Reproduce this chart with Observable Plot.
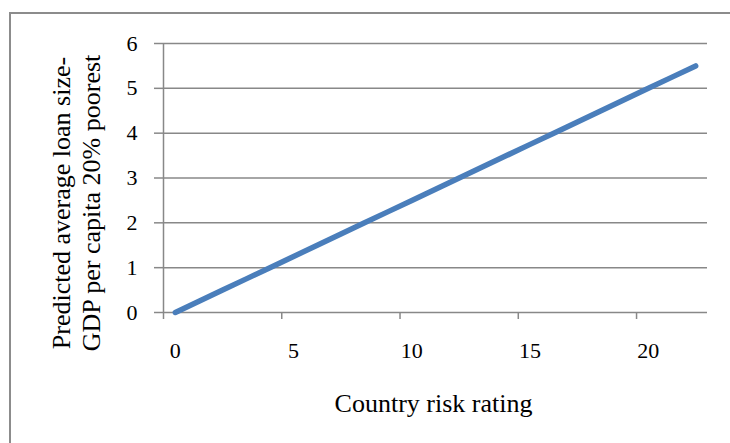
<!DOCTYPE html>
<html>
<head>
<meta charset="utf-8">
<script src="https://cdn.jsdelivr.net/npm/d3@7"></script>
<script src="https://cdn.jsdelivr.net/npm/@observablehq/plot@0.6"></script>
<style>
  html, body { margin: 0; padding: 0; background: #fff; }
  #wrap { position: relative; width: 730px; height: 443px; overflow: hidden; background: #fff; }
  #border { position: absolute; left: 9px; top: 12px; width: 900px; height: 700px;
            border: 2.5px solid #8c8c8c; box-sizing: border-box; }
  #chart { position: absolute; left: 0; top: 0; }
  #chart text { font-family: 'Liberation Serif', 'Times New Roman', serif; }
  #chart g[aria-label$="tick label"], #chart g[aria-label$="tick label"] text { font-size: 22px; }
</style>
</head>
<body>
<div id="wrap">
  <div id="border"></div>
  <div id="chart"></div>
</div>
<script>
// Country risk rating categories and the predicted loan size for each
const riskRating = [0, 1, 2, 3, 4, 5, 6, 7, 8, 9, 10, 11, 12, 13, 14, 15, 16, 17, 18, 19, 20, 21, 22];
const predictedLoanSize = [0, 0.25, 0.5, 0.75, 1, 1.25, 1.5, 1.75, 2, 2.25, 2.5, 2.75, 3, 3.25, 3.5, 3.75, 4, 4.25, 4.5, 4.75, 5, 5.25, 5.5];

// Axis ticks
const yTicks = [0, 1, 2, 3, 4, 5, 6];
const xTickLabels = [0, 5, 10, 15, 20];
const xTickBoundaries = [-0.5, 4.5, 9.5, 14.5, 19.5];

const xTitle = "Country risk rating";
const yTitle = "Predicted average loan size-\nGDP per capita 20% poorest";

const data = riskRating.map((r, i) => ({rating: r, loan: predictedLoanSize[i]}));

const gray = "#888888";
const lineBlue = "#4a7ebb";
const serif = "'Liberation Serif', 'Times New Roman', serif";

const chart = Plot.plot({
  width: 730,
  height: 443,
  marginLeft: 163,
  marginRight: 23,
  marginTop: 43,
  marginBottom: 131,
  style: {fontFamily: serif, fontSize: "22px", color: "#000", background: "transparent"},
  x: {type: "linear", domain: [-0.5, 22.5]},
  y: {domain: [0, 6]},
  marks: [
    // horizontal gridlines (the zero line doubles as the x axis)
    Plot.ruleY(yTicks, {stroke: gray, strokeWidth: 1.5}),
    // vertical axis line
    Plot.ruleX([-0.5], {stroke: gray, strokeWidth: 1.5}),
    // y tick marks and labels
    Plot.axisY({ticks: yTicks, tickSize: 9, tickFormat: () => "", stroke: gray, strokeWidth: 1.5, label: null}),
    Plot.axisY({ticks: yTicks, tickSize: 0, tickPadding: 26, tickFormat: d => String(d), fontSize: 22, fontFamily: serif, fill: "#000", label: null}),
    // x tick marks at category boundaries, labels at category centres
    Plot.axisX({ticks: xTickBoundaries, tickSize: 7, tickFormat: () => "", stroke: gray, strokeWidth: 1.5, label: null}),
    Plot.axisX({ticks: xTickLabels, tickSize: 0, tickPadding: 30, tickFormat: d => String(d), fontSize: 22, fontFamily: serif, fill: "#000", label: null}),
    // predicted loan size line
    Plot.line(data, {x: "rating", y: "loan", stroke: lineBlue, strokeWidth: 5.5, strokeLinecap: "round", strokeLinejoin: "round"}),
    // axis titles
    Plot.text([xTitle], {frameAnchor: "bottom", lineAnchor: "top", dy: 81, dx: -2, fontSize: 26, fontFamily: serif, fill: "#000"}),
    Plot.text([yTitle], {frameAnchor: "left", rotate: -90, dx: -88, dy: 25, fontSize: 26, fontFamily: serif, lineHeight: 1.15, fill: "#000", textAnchor: "middle"})
  ]
});

document.getElementById("chart").appendChild(chart);
</script>
</body>
</html>
